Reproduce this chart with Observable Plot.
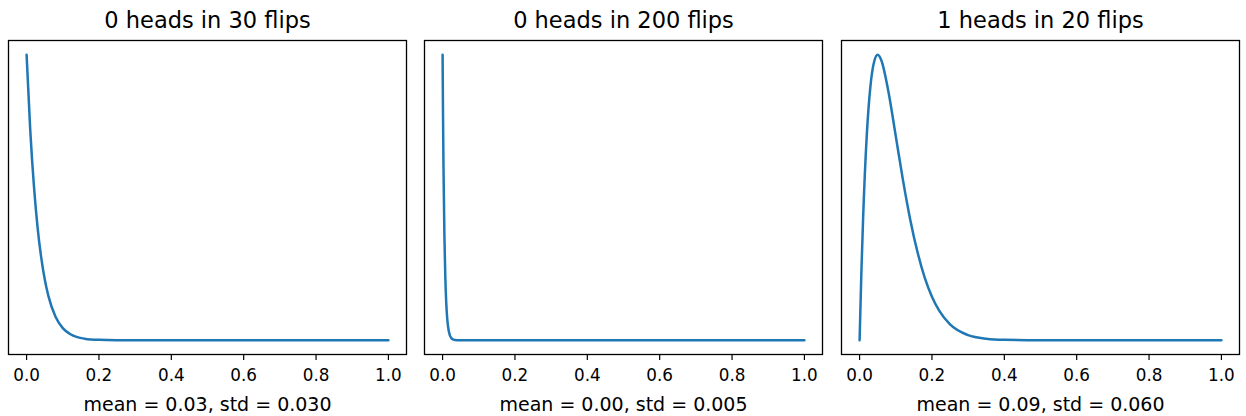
<!DOCTYPE html>
<html>
<head>
<meta charset="utf-8">
<script src="https://cdn.jsdelivr.net/npm/d3@7"></script>
<script src="https://cdn.jsdelivr.net/npm/@observablehq/plot@0.6"></script>
<style>
  html, body { margin: 0; padding: 0; background: #fff; }
  #wrap { position: relative; width: 1246px; height: 416px; overflow: hidden; }
  #wrap > svg { position: absolute; top: 0; }
</style>
</head>
<body>
<div id="wrap"></div>
<script>
// Panel titles and captions
const titles = ["0 heads in 30 flips", "0 heads in 200 flips", "1 heads in 20 flips"];
const captions = ["mean = 0.03, std = 0.030", "mean = 0.00, std = 0.005", "mean = 0.09, std = 0.060"];
const xTicks = [0, 0.2, 0.4, 0.6, 0.8, 1.0];

// Panel 1: density
const p1 = [0, 0.01, 0.02, 0.03, 0.04, 0.05, 0.06, 0.08, 0.10, 0.12, 0.14, 0.16, 0.20, 0.25, 0.30, 0.40, 1.0];
const d1 = [31, 22.9, 16.9, 12.4, 9.1, 6.65, 4.84, 2.54, 1.31, 0.68, 0.34, 0.17, 0.04, 0.006, 0, 0, 0];

// Panel 2
const p2 = [0, 0.001, 0.0025, 0.005, 0.0075, 0.01, 0.0125, 0.015, 0.02, 0.025, 0.03, 0.04, 0.06, 0.10, 1.0];
const d2 = [201, 164.6, 121.8, 73.8, 44.7, 26.9, 16.2, 9.85, 3.5, 1.27, 0.46, 0.06, 0, 0, 0];

// Panel 3
const p3 = [0, 0.005, 0.01, 0.02, 0.03, 0.04, 0.05, 0.06, 0.08, 0.10, 0.12, 0.14, 0.16, 0.18, 0.20, 0.22, 0.25, 0.30, 0.35, 0.40, 0.50, 1.0];
const d3v = [0, 1.91, 3.47, 5.72, 7.06, 7.73, 7.93, 7.78, 6.89, 5.67, 4.44, 3.35, 2.45, 1.74, 1.21, 0.82, 0.44, 0.14, 0.04, 0.01, 0, 0];

const panels = [
  {p: p1, d: d1, left: 0},
  {p: p2, d: d2, left: 416},
  {p: p3, d: d3v, left: 833}
];

const wrap = document.getElementById("wrap");
panels.forEach((pn, i) => {
  const data = pn.p.map((x, k) => ({x, y: pn.d[k]}));
  const mx = d3.max(pn.d);
  const chart = Plot.plot({
    width: 416,
    height: 416,
    marginLeft: 8,
    marginRight: 10,
    marginTop: 40,
    marginBottom: 62,
    style: {fontFamily: "DejaVu Sans, sans-serif", fontSize: "17px", color: "#000", background: "transparent"},
    x: {domain: [-0.05, 1.05]},
    y: {domain: [-0.05 * mx, 1.05 * mx], axis: null},
    marks: [
      Plot.axisX({ticks: xTicks, tickFormat: d3.format(".1f"), tickSize: 6, tickPadding: 9, label: null,
                  fontSize: 16.8, fontFamily: "DejaVu Sans, sans-serif", fill: "#000", stroke: "#000", strokeWidth: 1.2}),
      Plot.line(data, {x: "x", y: "y", stroke: "#1f77b4", strokeWidth: 2.5, curve: "monotone-x"}),
      Plot.frame({stroke: "#000", strokeWidth: 1.3}),
      Plot.text([titles[i]], {frameAnchor: "top", lineAnchor: "bottom", dy: -13, fontSize: 22.5, fill: "#000", text: d => d}),
      Plot.text([captions[i]], {frameAnchor: "bottom", lineAnchor: "bottom", dy: 56, fontSize: 19, fill: "#000", text: d => d})
    ]
  });
  chart.style.left = pn.left + "px";
  wrap.appendChild(chart);
});
</script>
</body>
</html>
